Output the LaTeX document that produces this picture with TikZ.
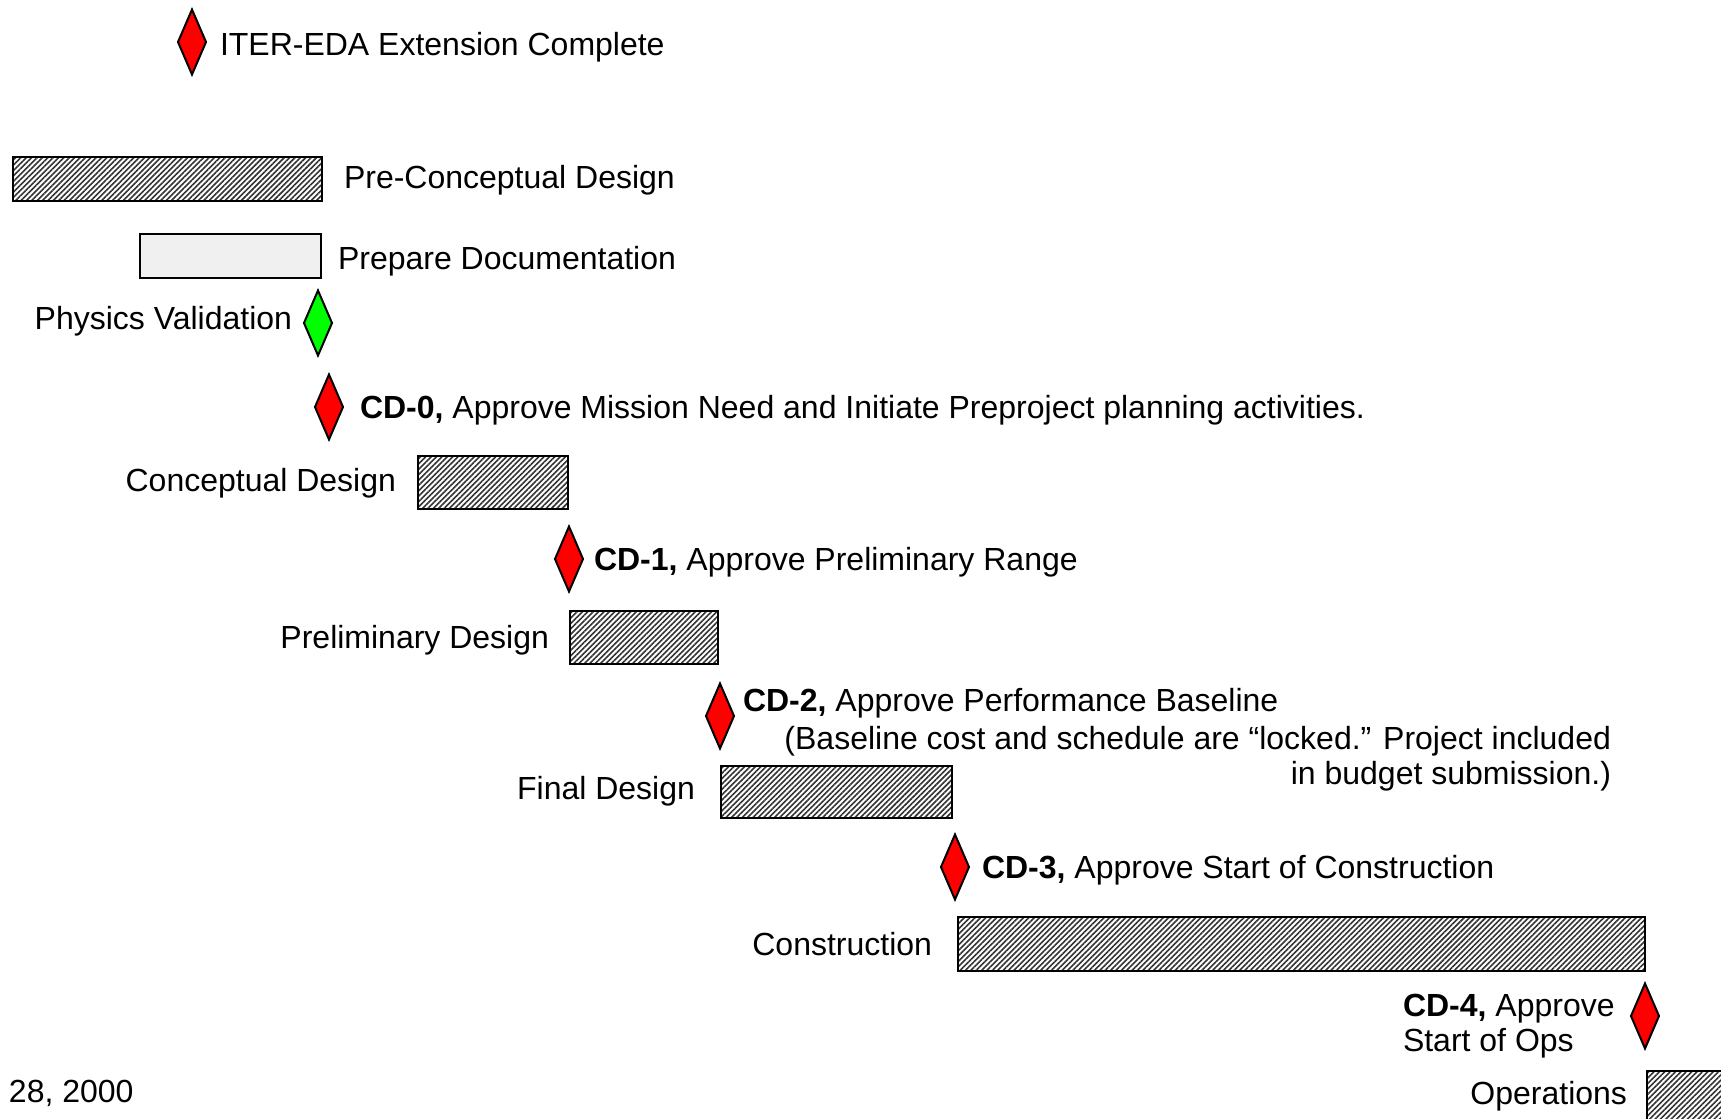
\documentclass[tikz,border=0pt]{standalone}
\usepackage{fontspec}
\setmainfont{Liberation Sans}
\usetikzlibrary{shapes.geometric,patterns.meta}
\begin{document}
\begin{tikzpicture}[x=0.5pt,y=-0.5pt,
  every node/.style={inner sep=0pt, outer sep=0pt, font=\fontsize{16pt}{17.5pt}\selectfont},
  ms/.style={diamond, draw=black, line width=1pt, fill=red, minimum width=14pt, minimum height=32.5pt},
  msgreen/.style={ms, fill=green},
  bar/.style={rectangle, draw=black, line width=1pt, pattern={Lines[angle=45,distance=1.9pt,line width=0.8pt]}, pattern color=black!80},
  plainbar/.style={rectangle, draw=black, line width=1pt, fill=black!6},
  lbl/.style={anchor=base west},
  rlbl/.style={anchor=base east}]
\useasboundingbox (0,0) rectangle (1721,1119);
\fill[white] (0,0) rectangle (1721,1119);

% milestones
\node[ms] (iter) at (192,42) {};
\node[msgreen] (phys) at (318,323) {};
\node[ms] (cd0) at (329,407) {};
\node[ms] (cd1) at (569,559) {};
\node[ms] (cd2) at (720,716) {};
\node[ms] (cd3) at (955,867) {};
\node[ms] (cd4) at (1645,1016) {};

% bars
\node[bar, minimum width=154.5pt, minimum height=22pt] (precon) at (167.5,179) {};
\node[plainbar, minimum width=90.5pt, minimum height=22pt] (prepdoc) at (230.5,256) {};
\node[bar, minimum width=75pt, minimum height=26.5pt] (concept) at (493,482) {};
\node[bar, minimum width=74pt, minimum height=26.5pt] (prelim) at (644,637) {};
\node[bar, minimum width=115.5pt, minimum height=26pt] (final) at (836.5,792) {};
\node[bar, minimum width=343.5pt, minimum height=27pt] (constr) at (1301.5,944) {};
\node[bar, minimum width=56pt, minimum height=29pt] (ops) at (1703,1100) {};

% labels
\node[lbl] (titer) at (220,55) {ITER-EDA Extension Complete};
\node[lbl] (tprecon) at (344,188) {Pre-Conceptual Design};
\node[lbl] (tprepdoc) at (338,269) {Prepare Documentation};
\node[rlbl] (tphys) at (292,329) {Physics Validation};
\node[lbl] (tcd0) at (360,418) {{\bfseries CD-0,} Approve Mission Need and Initiate Preproject planning activities.};
\node[rlbl] (tconcept) at (396,491) {Conceptual Design};
\node[lbl] (tcd1) at (594,570) {{\bfseries CD-1,} Approve Preliminary Range};
\node[rlbl] (tprelim) at (549,648) {Preliminary Design};
\node[lbl] (tcd2) at (743,711) {{\bfseries CD-2,} Approve Performance Baseline};
\node[anchor=north east, align=right] (tcd2b) at (1611,726) {(Baseline cost and schedule are “locked.” Project included\\in budget submission.)};
\node[rlbl] (tfinal) at (695,799) {Final Design};
\node[lbl] (tcd3) at (982,878) {{\bfseries CD-3,} Approve Start of Construction};
\node[rlbl] (tconstr) at (932,955) {Construction};
\node[anchor=north west, align=left] (tcd4) at (1403,994) {{\bfseries CD-4,} Approve\\Start of Ops};
\node[rlbl] (tops) at (1627,1104) {Operations};
\node[lbl] (tdate) at (9,1102) {28, 2000};
\end{tikzpicture}
\end{document}
